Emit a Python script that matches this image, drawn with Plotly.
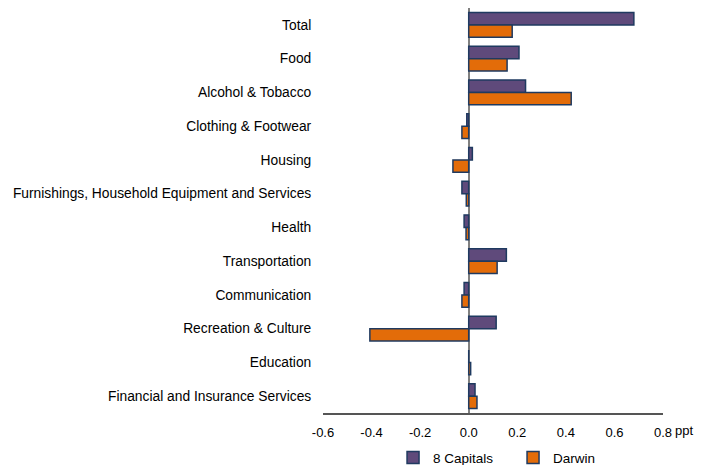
import plotly.graph_objects as go

categories = ["Total", "Food", "Alcohol & Tobacco", "Clothing & Footwear", "Housing",
              "Furnishings, Household Equipment and Services", "Health", "Transportation",
              "Communication", "Recreation & Culture", "Education",
              "Financial and Insurance Services"]
capitals = [0.68, 0.207, 0.234, -0.008, 0.015, -0.028, -0.019, 0.155, -0.019, 0.113, 0.0, 0.026]
darwin = [0.179, 0.158, 0.422, -0.028, -0.065, -0.010, -0.011, 0.117, -0.028, -0.407, 0.008, 0.034]
x_ticks = [-0.6, -0.4, -0.2, 0.0, 0.2, 0.4, 0.6, 0.8]
x_tick_labels = ["-0.6", "-0.4", "-0.2", "0.0", "0.2", "0.4", "0.6", "0.8"]

font = dict(family="Liberation Sans, Arial, sans-serif", size=13, color="#000000")
border = dict(color="#1F3A60", width=1.5)

fig = go.Figure()
fig.add_trace(go.Bar(y=categories, x=capitals, orientation="h", name="8 Capitals",
                     marker=dict(color="#5F4A7B", line=border)))
fig.add_trace(go.Bar(y=categories, x=darwin, orientation="h", name="Darwin",
                     marker=dict(color="#E36C09", line=border)))

# the page body adds an 8px offset, so the figure is sized/margined to compensate
fig.update_layout(
    width=701, height=457,
    margin=dict(l=315, r=46, t=0, b=52, autoexpand=False),
    plot_bgcolor="white", paper_bgcolor="white",
    font=font,
    barmode="group", bargap=0.26, bargroupgap=0.0,
    showlegend=True,
    legend=dict(orientation="h", x=0.206, xanchor="left", y=-0.072, yanchor="top",
                font=dict(size=13.5), entrywidth=75, traceorder="normal",
                bgcolor="rgba(0,0,0,0)"),
    xaxis=dict(range=[-0.6, 0.8], tickvals=x_ticks, ticktext=x_tick_labels,
               showgrid=False, zeroline=True, zerolinecolor="#808080", zerolinewidth=2,
               showline=True, linecolor="#555555", linewidth=1.5, ticks="outside",
               ticklen=7, tickcolor="rgba(0,0,0,0)", automargin=False,
               tickfont=dict(size=13)),
    yaxis=dict(showgrid=False, showline=False, ticks="outside", automargin=False,
               ticklen=8, tickcolor="rgba(0,0,0,0)", tickfont=dict(size=13.8),
               range=[11.5, -0.5]),
    annotations=[dict(text="ppt", x=1.0, xref="paper", xanchor="left", xshift=10,
                      y=-0.02, yref="paper", yanchor="top", showarrow=False,
                      font=dict(size=13))],
)

fig.write_html("out.html")
